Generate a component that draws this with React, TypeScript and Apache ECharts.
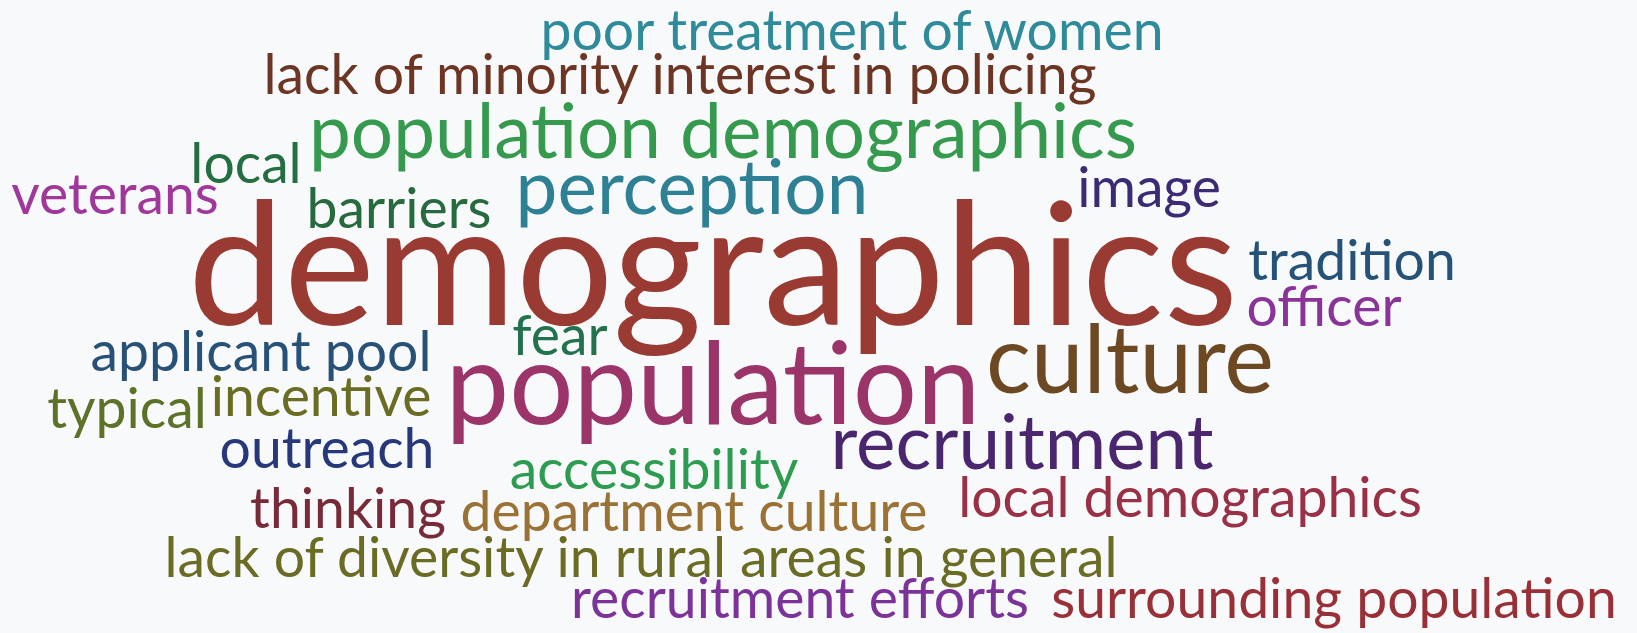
import React, { useEffect, useRef } from "react";
import * as echarts from "echarts";

// Word cloud terms and their mention counts
const words: string[] = [
  "poor treatment of women",
  "lack of minority interest in policing",
  "population demographics",
  "local",
  "veterans",
  "barriers",
  "perception",
  "image",
  "demographics",
  "tradition",
  "officer",
  "applicant pool",
  "fear",
  "culture",
  "population",
  "typical",
  "incentive",
  "outreach",
  "recruitment",
  "accessibility",
  "thinking",
  "department culture",
  "local demographics",
  "lack of diversity in rural areas in general",
  "recruitment efforts",
  "surrounding population",
];

const counts: number[] = [1, 1, 2, 1, 1, 1, 2, 1, 7, 1, 1, 1, 1, 3, 4, 1, 1, 1, 2, 1, 1, 1, 1, 1, 1, 1];

// Cloud layout: word centre (x) and baseline (y) in layout units
const layoutX: number[] = [852, 680, 723, 246, 115, 399, 692, 1149, 713, 1352, 1324, 261, 560, 1130, 713, 127, 321, 327, 1022, 654, 348, 694, 1190, 641, 800, 1334];
const layoutY: number[] = [50, 94, 157, 183, 214, 228, 213, 207, 324, 280, 326, 371, 355, 392, 423, 428, 416, 468, 468, 489, 528, 531, 517, 577, 618, 618];

const colors: string[] = [
  "#2f8a9a", "#6c3524", "#35994e", "#246e41", "#a0379a", "#266a3e", "#2e8195",
  "#3b2a74", "#993a33", "#265277", "#8a3499", "#285177", "#23724e", "#6c4823",
  "#9b3468", "#5c7228", "#6a6c24", "#26387a", "#4a266f", "#2e9c50", "#772a38",
  "#9a7236", "#9a3045", "#6a6c24", "#7b3399", "#9a3037",
];

const BASE_SIZE = 55.3;
const STEP = 19.4;
const CENTRAL = 0.38;

export default function App() {
  const ref = useRef<HTMLDivElement>(null);
  useEffect(() => {
    if (!ref.current) return;
    const chart = echarts.init(ref.current, null, { renderer: "svg" });
    const data = words.map((w, i) => {
      const fs = BASE_SIZE + STEP * (counts[i] - 1);
      return {
        name: w,
        value: [layoutX[i], layoutY[i] - CENTRAL * fs, counts[i]],
        label: {
          fontSize: fs,
          color: colors[i],
        },
      };
    });
    chart.setOption({
      animation: false,
      backgroundColor: "#f8f9fb",
      grid: { left: 0, right: 0, top: 0, bottom: 0 },
      xAxis: { type: "value", min: 0, max: 1637, show: false },
      yAxis: { type: "value", min: 0, max: 633, inverse: true, show: false },
      series: [
        {
          type: "scatter",
          symbolSize: 1,
          itemStyle: { color: "rgba(0,0,0,0)" },
          label: {
            show: true,
            position: "inside",
            align: "center",
            verticalAlign: "middle",
            fontFamily: "Lato",
            fontWeight: "normal",
            opacity: 1,
            formatter: (p: any) => p.name,
          },
          labelLayout: { hideOverlap: false },
          data,
        },
      ],
    });
    return () => chart.dispose();
  }, []);
  return (
    <div
      ref={ref}
      style={{ position: "absolute", left: 0, top: 0, width: 1637, height: 633 }}
    />
  );
}
